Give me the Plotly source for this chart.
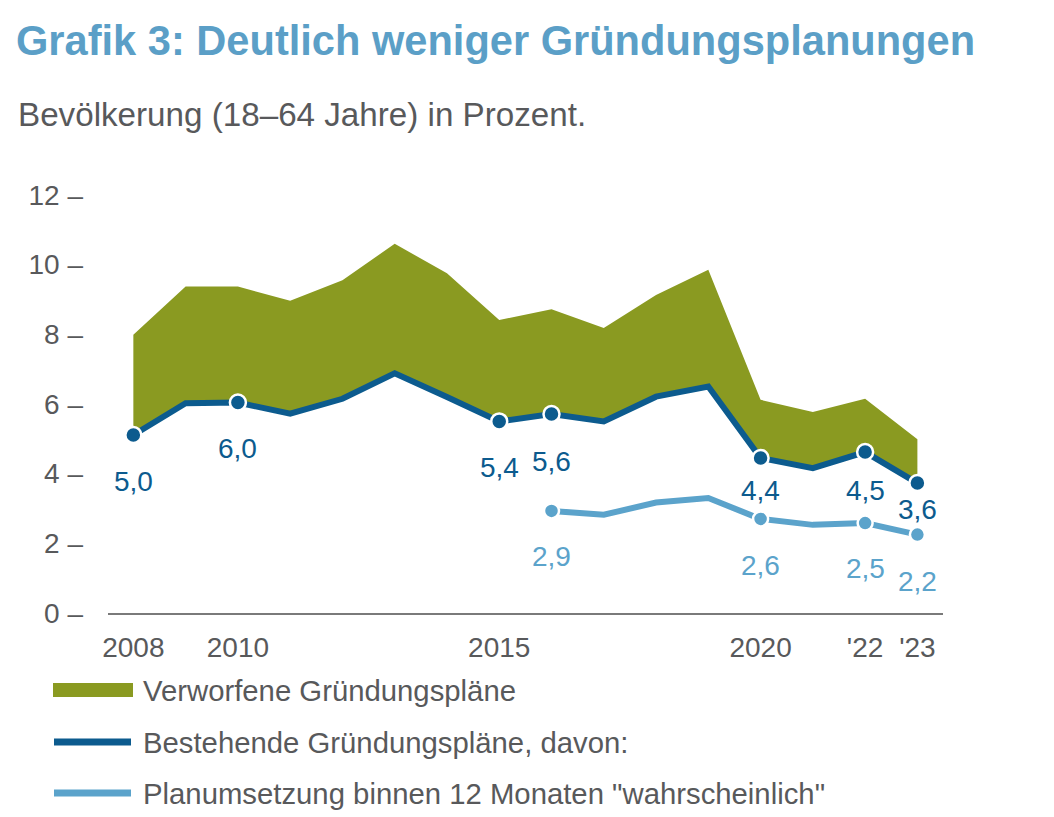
import plotly.graph_objects as go

# ---------------- data ----------------
years = [2008, 2009, 2010, 2011, 2012, 2013, 2014, 2015, 2016, 2017, 2018, 2019, 2020, 2021, 2022, 2023]
total_plans = [7.99, 9.37, 9.37, 8.96, 9.55, 10.6, 9.75, 8.41, 8.72, 8.18, 9.13, 9.85, 6.12, 5.77, 6.15, 4.99]
existing_plans = [5.11, 6.02, 6.04, 5.72, 6.15, 6.88, 6.2, 5.5, 5.71, 5.5, 6.21, 6.5, 4.45, 4.16, 4.62, 3.73]
likely_years = [2016, 2017, 2018, 2019, 2020, 2021, 2022, 2023]
likely_plans = [2.93, 2.82, 3.17, 3.3, 2.7, 2.53, 2.58, 2.25]

existing_label_years = [2008, 2010, 2015, 2016, 2020, 2022, 2023]
existing_label_text = ["5,0", "6,0", "5,4", "5,6", "4,4", "4,5", "3,6"]
likely_label_years = [2016, 2020, 2022, 2023]
likely_label_text = ["2,9", "2,6", "2,5", "2,2"]

y_tickvals = [0, 2, 4, 6, 8, 10, 12]
y_ticktext = ["0 –", "2 –", "4 –", "6 –", "8 –", "10 –", "12 –"]
x_tickvals = [2008, 2010, 2015, 2020, 2022, 2023]
x_ticktext = ["2008", "2010", "2015", "2020", "'22", "'23"]

title_text = "Grafik 3: Deutlich weniger Gründungsplanungen"
subtitle_text = "Bevölkerung (18–64 Jahre) in Prozent."
legend_texts = ["Verworfene Gründungspläne",
                "Bestehende Gründungspläne, davon:",
                'Planumsetzung binnen 12 Monaten "wahrscheinlich"']

# ---------------- styles ----------------
GREEN = "#8a9a21"
DARK = "#0c5b8e"
LIGHT = "#5ba3cb"
TITLE = "#5b9fc7"
GREY = "#58595b"
AXIS = "#7a7a7a"
FONT = "Liberation Sans, Arial, sans-serif"

W, H = 1054, 817
OFF = 8  # page body margin
P_LEFT, P_RIGHT, P_TOP, P_BOTTOM = 108, 943, 188, 613
ML = P_LEFT - OFF
MR = W - (P_RIGHT - OFF)
MT = P_TOP - OFF
MB = H - (P_BOTTOM - OFF)
PW, PH = W - ML - MR, H - MT - MB

def px_x(px):
    return (px - OFF - ML) / PW

def px_y(py):
    return (H - MB - (py - OFF)) / PH

existing_offsets = {2008: 47, 2010: 46, 2015: 46, 2016: 47, 2020: 33, 2022: 38, 2023: 26}
likely_offsets = {2016: 46, 2020: 47, 2022: 45, 2023: 47}

fig = go.Figure()

fig.add_trace(go.Scatter(x=years, y=existing_plans, mode="lines",
                         line=dict(width=0, color=DARK), hoverinfo="skip", showlegend=False))
fig.add_trace(go.Scatter(x=years, y=total_plans, mode="lines", fill="tonexty",
                         fillcolor=GREEN, line=dict(width=0, color=GREEN), showlegend=False))
fig.add_trace(go.Scatter(x=years, y=existing_plans, mode="lines",
                         line=dict(width=6, color=DARK), showlegend=False))
fig.add_trace(go.Scatter(x=likely_years, y=likely_plans, mode="lines",
                         line=dict(width=6, color=LIGHT), showlegend=False))

ex_lookup = dict(zip(years, existing_plans))
li_lookup = dict(zip(likely_years, likely_plans))
fig.add_trace(go.Scatter(x=existing_label_years, y=[ex_lookup[y] for y in existing_label_years],
                         mode="markers", marker=dict(size=16, color=DARK, line=dict(width=2.5, color="white")),
                         showlegend=False))
fig.add_trace(go.Scatter(x=likely_label_years, y=[li_lookup[y] for y in likely_label_years],
                         mode="markers", marker=dict(size=15, color=LIGHT, line=dict(width=2.5, color="white")),
                         showlegend=False))

annotations = []
for yr, txt in zip(existing_label_years, existing_label_text):
    annotations.append(dict(x=yr, y=ex_lookup[yr], xref="x", yref="y", text=txt, showarrow=False,
                            yshift=-existing_offsets[yr], font=dict(size=28, color=DARK, family=FONT)))
for yr, txt in zip(likely_label_years, likely_label_text):
    annotations.append(dict(x=yr, y=li_lookup[yr], xref="x", yref="y", text=txt, showarrow=False,
                            yshift=-likely_offsets[yr], font=dict(size=28, color=LIGHT, family=FONT)))

annotations.append(dict(x=px_x(16), y=px_y(115), xref="paper", yref="paper", xanchor="left", yanchor="middle",
                        text=subtitle_text, showarrow=False, font=dict(size=33.2, color=GREY, family=FONT)))

legend_rows = [690, 742, 793]
shapes = [
    dict(type="rect", xref="paper", yref="paper", x0=px_x(53), x1=px_x(133), y0=px_y(697), y1=px_y(683),
         fillcolor=GREEN, line=dict(width=0)),
    dict(type="line", xref="paper", yref="paper", x0=px_x(54), x1=px_x(131), y0=px_y(742), y1=px_y(742),
         line=dict(width=7, color=DARK)),
    dict(type="line", xref="paper", yref="paper", x0=px_x(54), x1=px_x(131), y0=px_y(793), y1=px_y(793),
         line=dict(width=7, color=LIGHT)),
]
for ry, txt in zip(legend_rows, legend_texts):
    annotations.append(dict(x=px_x(141), y=px_y(ry), xref="paper", yref="paper", xanchor="left", yanchor="middle",
                            text=txt, showarrow=False, font=dict(size=29.3, color=GREY, family=FONT)))

fig.update_layout(
    width=W, height=H,
    margin=dict(l=ML, r=MR, t=MT, b=MB, pad=0),
    paper_bgcolor="white", plot_bgcolor="white",
    font=dict(family=FONT, color=GREY),
    title=dict(text="<b>" + title_text + "</b>", x=(16 - OFF) / W, xanchor="left", xref="container",
               y=1 - (40 - OFF) / H, yanchor="middle", yref="container",
               font=dict(size=41.6, color=TITLE, family=FONT)),
    showlegend=False,
    annotations=annotations,
    shapes=shapes,
    xaxis=dict(range=[2007.515, 2023.49], tickvals=x_tickvals, ticktext=x_ticktext,
               showgrid=False, zeroline=False, showline=True, linecolor=AXIS, linewidth=2,
               ticks="", ticklabelstandoff=8, tickfont=dict(size=28, color=GREY, family=FONT),
               fixedrange=True),
    yaxis=dict(range=[0, 12.2], tickvals=y_tickvals, ticktext=y_ticktext,
               showgrid=False, zeroline=False, showline=False,
               ticks="", ticklabelstandoff=24, tickfont=dict(size=28, color=GREY, family=FONT),
               fixedrange=True),
)

fig.write_html("out.html", config={"displayModeBar": False})
